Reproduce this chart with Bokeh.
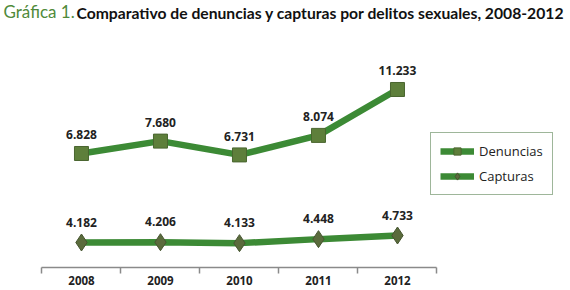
from bokeh.plotting import figure
from bokeh.models import (Range1d, LinearAxis, FixedTicker, Label, Legend, LegendItem,
                          ColumnDataSource, LabelSet)
from bokeh.core.properties import value
from bokeh.embed import file_html
from bokeh.resources import INLINE

years = [2008, 2009, 2010, 2011, 2012]
year_labels = ["2008", "2009", "2010", "2011", "2012"]
denuncias = [6828, 7680, 6731, 8074, 11233]
capturas = [4182, 4206, 4133, 4448, 4733]
denuncias_txt = ["6.828", "7.680", "6.731", "8.074", "11.233"]
capturas_txt = ["4.182", "4.206", "4.133", "4.448", "4.733"]

LINE = "#3c8a35"
SQ_FILL = "#5e7f3b"
DI_FILL = "#5a6b3c"

p = figure(frame_width=570, frame_height=267, output_backend="svg", toolbar_location=None,
           x_range=Range1d(2006.975, 2014.19), y_range=Range1d(-1018, 17358),
           min_border_left=0, min_border_right=0, min_border_top=0, min_border_bottom=0,
           x_axis_location=None, y_axis_location=None)
p.extra_y_ranges = {"cap": Range1d(2214, 23238)}
p.grid.visible = False
p.outline_line_color = None
p.background_fill_color = "white"
p.border_fill_color = "white"

xa = LinearAxis(ticker=FixedTicker(ticks=years, minor_ticks=[2007.5, 2008.5, 2009.5, 2010.5, 2011.5, 2012.5]),
                bounds=(2007.5, 2012.5))
xa.major_label_overrides = {y: s for y, s in zip(years, year_labels)}
xa.axis_line_color = "#8a8a8a"
xa.axis_line_width = 1.5
xa.major_tick_line_color = None
xa.major_tick_out = 0
xa.major_tick_in = 0
xa.minor_tick_line_color = "#8a8a8a"
xa.minor_tick_line_width = 1.5
xa.minor_tick_out = 6
xa.minor_tick_in = 0
xa.major_label_standoff = 2
xa.major_label_text_font = "Open Sans"
xa.major_label_text_font_style = "bold"
xa.major_label_text_font_size = "11.5px"
xa.major_label_text_color = "#222222"
p.add_layout(xa, "below")

src_d = ColumnDataSource(dict(x=years, y=denuncias, t=denuncias_txt))
src_c = ColumnDataSource(dict(x=years, y=capturas, t=capturas_txt))

ld = p.line("x", "y", source=src_d, line_color=LINE, line_width=6.5)
sd = p.scatter("x", "y", source=src_d, marker="square", size=14, fill_color=SQ_FILL,
               line_color="#4a6630", line_width=1)
lc = p.line("x", "y", source=src_c, line_color=LINE, line_width=6.5, y_range_name="cap")
sc = p.scatter("x", "y", source=src_c, marker="diamond", size=17, fill_color=DI_FILL,
               line_color="#465530", line_width=1, y_range_name="cap")

lab_d = LabelSet(x="x", y="y", text="t", source=src_d, text_align="center", y_offset=14,
                 text_font=value("Open Sans"), text_font_size=value("12px"),
                 text_font_style=value("bold"), text_color=value("#222222"))
lab_c = LabelSet(x="x", y="y", text="t", source=src_c, text_align="center", y_offset=16,
                 y_range_name="cap",
                 text_font=value("Open Sans"), text_font_size=value("12px"),
                 text_font_style=value("bold"), text_color=value("#222222"))
p.add_layout(lab_d)
p.add_layout(lab_c)

legend = Legend(items=[LegendItem(label="Denuncias", renderers=[ld, sd]),
                       LegendItem(label="Capturas", renderers=[lc, sc])],
                location=(430, 72), border_line_color="#3d6e35", border_line_width=1.5,
                label_text_font="Open Sans", label_text_font_size="13px",
                label_text_color="#222222", glyph_width=34, glyph_height=18,
                spacing=7, padding=9, margin=0, label_standoff=5,
                background_fill_alpha=1)
p.add_layout(legend, "center")

px = 7.215 / 570.0  # data units per pixel (x)
py = 18376 / 267.0  # data units per pixel (y)
def xd(sx):
    return 2006.975 + sx * px
def yd(sy):
    return 17358 - sy * py

p.add_layout(Label(x=xd(3), y=yd(21), text="Gráfica 1.", text_font="Lato",
                   text_font_size="17px", text_color="#4f8a3a"))
p.add_layout(Label(x=xd(76), y=yd(21), text="Comparativo de denuncias y capturas por delitos sexuales, 2008-2012",
                   text_font="Lato", text_font_style="bold", text_font_size="15.7px",
                   text_color="#111111"))

open("out.html", "w").write(file_html(p, INLINE))
